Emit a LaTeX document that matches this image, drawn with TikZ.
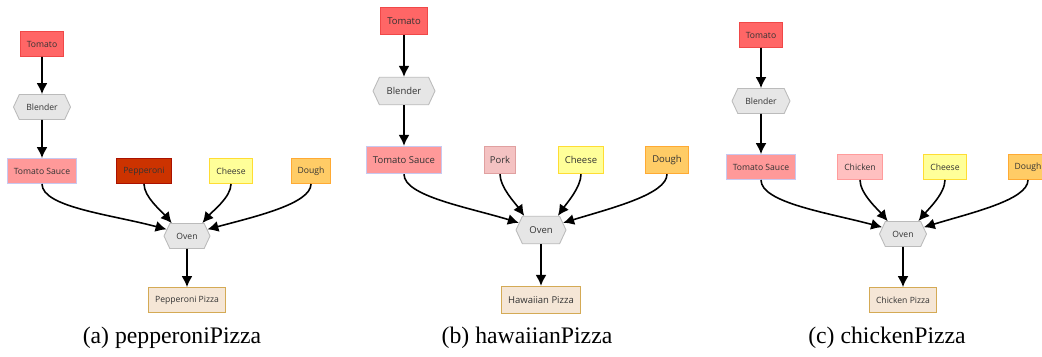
\documentclass[tikz,border=0pt]{standalone}
\usepackage{fontspec}
\setmainfont{Liberation Serif}
\newfontfamily\nodefont{Open Sans}
\usetikzlibrary{positioning,arrows.meta,shapes.symbols}

\definecolor{tomatoFill}{HTML}{FF6666}
\definecolor{tomatoLine}{HTML}{F04848}
\definecolor{sauceFill}{HTML}{FF9999}
\definecolor{sauceLine}{HTML}{C8C8F0}
\definecolor{toolFill}{HTML}{E6E6E6}
\definecolor{toolLine}{HTML}{BBBBBB}
\definecolor{pepFill}{HTML}{CC3300}
\definecolor{pepLine}{HTML}{AA1100}
\definecolor{porkFill}{HTML}{F4C2C2}
\definecolor{porkLine}{HTML}{E0A0A0}
\definecolor{chickFill}{HTML}{FFC0C0}
\definecolor{chickLine}{HTML}{FF9C9C}
\definecolor{cheeseFill}{HTML}{FFFF99}
\definecolor{cheeseLine}{HTML}{FFDD33}
\definecolor{doughFill}{HTML}{FFCC66}
\definecolor{doughLine}{HTML}{FFAA33}
\definecolor{pizzaFill}{HTML}{F5E6D6}
\definecolor{pizzaLine}{HTML}{D4AA55}
\definecolor{nodeText}{HTML}{333333}

\begin{document}
\begin{tikzpicture}[font=\nodefont\fontsize{4.9}{6}\selectfont, text=nodeText]

		\useasboundingbox (0,0) rectangle (20.84,-7.12);

		\tikzstyle{item} = [draw, rectangle, line width=0.5pt, minimum height=0.5cm, inner xsep=0.13cm]
		\tikzstyle{tool} = [draw=toolLine, fill=toolFill, line width=0.5pt, signal, signal to=east and west, signal pointer angle=130, minimum height=0.5cm, inner xsep=0.1cm]
		\tikzstyle{flow} = [line width=0.9pt, -{Latex[length=2.2mm,width=2.2mm]}]
		\tikzstyle{side} = [out=-90, out looseness=0.45, in looseness=1.1]
		\tikzstyle{inner} = [out=-90, out looseness=0.7, in looseness=0.8]
		\tikzstyle{caption} = [font=\fontsize{13.5}{16}\selectfont, text=black]

		% (a) pepperoniPizza
		\node[item, draw=tomatoLine, fill=tomatoFill] (tomA) at (0.84,-0.88) {Tomato};
		\node[tool, minimum width=1.14cm] (blendA) at (0.84,-2.14) {Blender};
		\node[item, draw=sauceLine, fill=sauceFill] (sauceA) at (0.84,-3.42) {Tomato Sauce};
		\node[item, draw=pepLine, fill=pepFill] (pepA) at (2.88,-3.42) {Pepperoni};
		\node[item, draw=cheeseLine, fill=cheeseFill] (cheeseA) at (4.62,-3.42) {Cheese};
		\node[item, draw=doughLine, fill=doughFill] (doughA) at (6.22,-3.42) {Dough};
		\node[tool, minimum width=0.92cm] (ovenA) at (3.74,-4.72) {Oven};
		\node[item, draw=pizzaLine, fill=pizzaFill] (pizzaA) at (3.74,-6.00) {Pepperoni Pizza};
		\node[caption] (capA) at (3.44,-6.76) {(a) pepperoniPizza};

		\draw[flow] (tomA) -- (blendA);
		\draw[flow] (blendA) -- (sauceA);
		\draw[flow] (sauceA.south) to[side, in=165] (ovenA.162);
		\draw[flow] (pepA.south) to[inner, in=130] (ovenA.140);
		\draw[flow] (cheeseA.south) to[inner, in=50] (ovenA.40);
		\draw[flow] (doughA.south) to[side, in=15] (ovenA.18);
		\draw[flow] (ovenA) -- (pizzaA);

		% (b) hawaiianPizza
		\begin{scope}[font=\nodefont\fontsize{5.4}{6.5}\selectfont]
		\node[item, draw=tomatoLine, fill=tomatoFill, minimum height=0.55cm] (tomB) at (8.08,-0.42) {Tomato};
		\node[tool, minimum width=1.24cm, minimum height=0.55cm] (blendB) at (8.08,-1.82) {Blender};
		\node[item, draw=sauceLine, fill=sauceFill, minimum height=0.55cm] (sauceB) at (8.08,-3.20) {Tomato Sauce};
		\node[item, draw=porkLine, fill=porkFill, minimum height=0.55cm, inner xsep=0.1cm] (porkB) at (10.00,-3.20) {Pork};
		\node[item, draw=cheeseLine, fill=cheeseFill, minimum height=0.55cm] (cheeseB) at (11.62,-3.20) {Cheese};
		\node[item, draw=doughLine, fill=doughFill, minimum height=0.55cm] (doughB) at (13.34,-3.20) {Dough};
		\node[tool, minimum width=1.0cm, minimum height=0.55cm] (ovenB) at (10.82,-4.60) {Oven};
		\node[item, draw=pizzaLine, fill=pizzaFill, minimum height=0.55cm] (pizzaB) at (10.82,-6.00) {Hawaiian Pizza};
		\end{scope}
		\node[caption] (capB) at (10.54,-6.76) {(b) hawaiianPizza};

		\draw[flow] (tomB) -- (blendB);
		\draw[flow] (blendB) -- (sauceB);
		\draw[flow] (sauceB.south) to[side, in=163] (ovenB.162);
		\draw[flow] (porkB.south) to[inner, in=125] (ovenB.140);
		\draw[flow] (cheeseB.south) to[inner, in=55] (ovenB.40);
		\draw[flow] (doughB.south) to[side, in=17] (ovenB.18);
		\draw[flow] (ovenB) -- (pizzaB);

		% (c) chickenPizza
		\node[item, draw=tomatoLine, fill=tomatoFill] (tomC) at (15.22,-0.70) {Tomato};
		\node[tool, minimum width=1.16cm] (blendC) at (15.22,-2.02) {Blender};
		\node[item, draw=sauceLine, fill=sauceFill] (sauceC) at (15.22,-3.34) {Tomato Sauce};
		\node[item, draw=chickLine, fill=chickFill] (chickC) at (17.20,-3.34) {Chicken};
		\node[item, draw=cheeseLine, fill=cheeseFill] (cheeseC) at (18.90,-3.34) {Cheese};
		\node[item, draw=doughLine, fill=doughFill] (doughC) at (20.56,-3.34) {Dough};
		\node[tool, minimum width=0.94cm] (ovenC) at (18.06,-4.68) {Oven};
		\node[item, draw=pizzaLine, fill=pizzaFill] (pizzaC) at (18.06,-6.00) {Chicken Pizza};
		\node[caption] (capC) at (17.74,-6.76) {(c) chickenPizza};

		\draw[flow] (tomC) -- (blendC);
		\draw[flow] (blendC) -- (sauceC);
		\draw[flow] (sauceC.south) to[side, in=165] (ovenC.162);
		\draw[flow] (chickC.south) to[inner, in=130] (ovenC.140);
		\draw[flow] (cheeseC.south) to[inner, in=50] (ovenC.40);
		\draw[flow] (doughC.south) to[side, in=17] (ovenC.18);
		\draw[flow] (ovenC) -- (pizzaC);

	\end{tikzpicture}
\end{document}
